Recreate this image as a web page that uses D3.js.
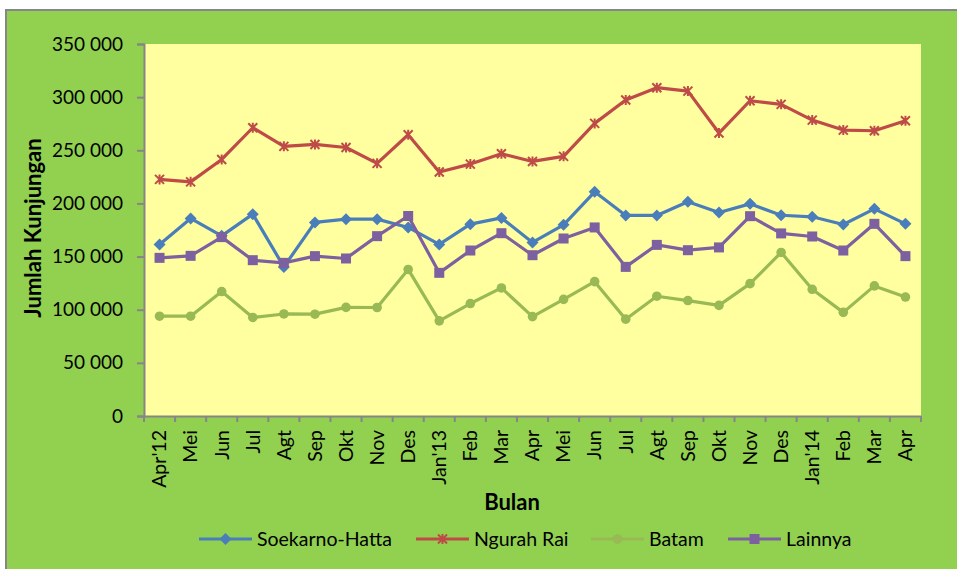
<!DOCTYPE html>
<html>
<head>
<meta charset="utf-8">
<script src="https://cdn.jsdelivr.net/npm/d3@7"></script>
<style>
  body { margin: 0; background: #fff; }
  svg text { font-family: Lato, "Open Sans", sans-serif; fill: #000; }
</style>
</head>
<body>
<div id="chart"></div>
<script>
var months = ["Apr'12", "Mei", "Jun", "Jul", "Agt", "Sep", "Okt", "Nov", "Des", "Jan'13",
  "Feb", "Mar", "Apr", "Mei", "Jun", "Jul", "Agt", "Sep", "Okt", "Nov", "Des", "Jan'14",
  "Feb", "Mar", "Apr"];

var soekarnoHatta = [161400, 185900, 169500, 189900, 140300, 182100, 185200, 185200, 177400, 161400,
  180500, 186400, 163300, 179900, 210900, 188700, 188700, 201500, 191500, 199600, 188900, 187400,
  180200, 194900, 180800];
var ngurahRai = [222600, 220300, 241400, 271200, 253700, 255500, 252600, 237700, 264600, 229500,
  237000, 246700, 239500, 244300, 275300, 297300, 308900, 305700, 266200, 296600, 293200, 278400,
  269000, 268400, 277800];
var batam = [93900, 93900, 117100, 92700, 96000, 95800, 102200, 102100, 137900, 89500,
  105800, 120500, 93500, 109700, 126400, 91100, 112700, 108600, 104100, 124500, 153900, 119200,
  97500, 122400, 111900];
var lainnya = [148800, 150700, 168300, 146600, 144100, 150400, 148200, 169200, 188200, 134700,
  155700, 172000, 151300, 167000, 177400, 140300, 161000, 156000, 158600, 188000, 171800, 168900,
  155700, 180800, 150400];

var yTicks = [0, 50000, 100000, 150000, 200000, 250000, 300000, 350000];

var series = [
  { name: "Soekarno-Hatta", values: soekarnoHatta, color: "#4a7ebb", marker: "diamond" },
  { name: "Ngurah Rai", values: ngurahRai, color: "#be4b48", marker: "star" },
  { name: "Batam", values: batam, color: "#98b954", marker: "circle" },
  { name: "Lainnya", values: lainnya, color: "#7d60a0", marker: "square" }
];

var W = 957, H = 569;
var margin = { top: 44, left: 144, right: 36, bottom: 153 };
var width = W - margin.left - margin.right,
    height = H - margin.top - margin.bottom;

var svg = d3.select("#chart").append("svg")
  .attr("width", W)
  .attr("height", H);

// chart frame
svg.append("rect")
  .attr("x", 6).attr("y", 10)
  .attr("width", W).attr("height", H)
  .attr("fill", "#92d050")
  .attr("stroke", "#868686")
  .attr("stroke-width", 2);

var g = svg.append("g")
  .attr("transform", "translate(" + margin.left + "," + margin.top + ")");

g.append("rect")
  .attr("width", width).attr("height", height)
  .attr("fill", "#ffff9f");

var x = d3.scaleBand()
  .domain(d3.range(months.length))
  .range([0, width]);

var y = d3.scaleLinear()
  .domain([0, 350000])
  .range([height, 0]);

var fmt = function(d) { return d3.format(",")(d).replace(/,/g, " "); };

var yAxis = g.append("g")
  .call(d3.axisLeft(y).tickValues(yTicks).tickFormat(fmt).tickSizeOuter(0).tickSize(7).tickPadding(14));

var xAxis = g.append("g")
  .attr("transform", "translate(0," + height + ")")
  .call(d3.axisBottom(x).tickFormat("").tickSize(0));

// ticks between categories
xAxis.selectAll(".tick").remove();
xAxis.selectAll(".sep")
  .data(d3.range(months.length + 1))
  .enter().append("line")
  .attr("x1", function(d) { return d * x.step(); })
  .attr("x2", function(d) { return d * x.step(); })
  .attr("y1", 0).attr("y2", 6);

xAxis.selectAll(".lbl")
  .data(months)
  .enter().append("text")
  .attr("transform", function(d, i) {
    return "translate(" + (x(i) + x.bandwidth() / 2) + ",14) rotate(-90)";
  })
  .attr("dy", "0.35em")
  .attr("text-anchor", "end")
  .style("font-size", "19.5px")
  .text(function(d) { return d; });

svg.selectAll(".domain, line").attr("stroke", "#868686").attr("stroke-width", 2);
yAxis.selectAll("text").style("font-size", "19px").attr("fill", "#000");

// axis titles
svg.append("text")
  .attr("x", 512).attr("y", 510)
  .attr("text-anchor", "middle")
  .style("font-size", "22px").style("font-weight", "bold")
  .text("Bulan");

svg.append("text")
  .attr("transform", "translate(41,228) rotate(-90)")
  .attr("text-anchor", "middle")
  .style("font-size", "22px").style("font-weight", "bold")
  .text("Jumlah Kunjungan");

var line = d3.line()
  .x(function(d, i) { return x(i) + x.bandwidth() / 2; })
  .y(function(d) { return y(d); });

function drawMarker(sel, type, color) {
  if (type === "diamond") {
    sel.append("path").attr("d", "M0,-6L6,0L0,6L-6,0Z").attr("fill", color);
  } else if (type === "square") {
    sel.append("rect").attr("x", -5).attr("y", -5).attr("width", 10).attr("height", 10)
      .attr("fill", color);
  } else if (type === "circle") {
    sel.append("circle").attr("r", 4.8).attr("fill", color);
  } else {
    sel.append("path").attr("d", "M-4.5,-4.5L4.5,4.5M-4.5,4.5L4.5,-4.5M0,-5L0,5")
      .attr("stroke", color).attr("stroke-width", 2).attr("fill", "none");
  }
}

series.forEach(function(s) {
  g.append("path")
    .datum(s.values)
    .attr("d", line)
    .attr("fill", "none")
    .attr("stroke", s.color)
    .attr("stroke-width", 3.2)
    .attr("stroke-linejoin", "round");

  g.selectAll(null)
    .data(s.values)
    .enter().append("g")
    .attr("transform", function(d, i) {
      return "translate(" + (x(i) + x.bandwidth() / 2) + "," + y(d) + ")";
    })
    .each(function() { drawMarker(d3.select(this), s.marker, s.color); });
});

// legend
var legendX = [199, 416, 591, 728];
var legend = svg.selectAll(".legend")
  .data(series)
  .enter().append("g")
  .attr("transform", function(d, i) { return "translate(" + legendX[i] + ",539)"; });

legend.append("line")
  .attr("x1", 0).attr("x2", 53).attr("y1", 0).attr("y2", 0)
  .attr("stroke", function(d) { return d.color; })
  .attr("stroke-width", 3.2);

legend.each(function(d) {
  var m = d3.select(this).append("g").attr("transform", "translate(26.5,0)");
  drawMarker(m, d.marker, d.color);
});

legend.append("text")
  .attr("x", 58).attr("dy", "0.35em")
  .style("font-size", "19.5px")
  .text(function(d) { return d.name; });
</script>
</body>
</html>
